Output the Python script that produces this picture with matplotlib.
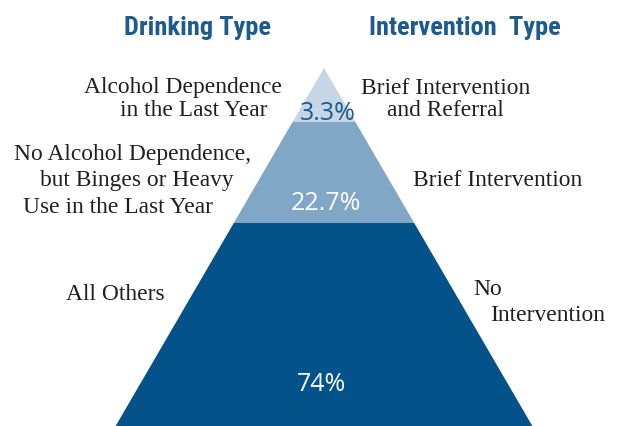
import matplotlib
matplotlib.use("Agg")
import matplotlib.pyplot as plt
from matplotlib.patches import Polygon

# data
drinking_types = [
    ["Alcohol Dependence", "in the Last Year"],
    ["No Alcohol Dependence,", "but Binges or Heavy", "Use in the Last Year"],
    ["All Others"],
]
intervention_types = [
    ["Brief Intervention", "and Referral"],
    ["Brief Intervention"],
    ["No", "Intervention"],
]
percent_labels = ["3.3%", "22.7%", "74%"]

# layout (pixel coordinates, y down)
W, H = 618, 427
apex_x, apex_y = 324, 69
slope = 0.582  # half width per pixel of height
level_edges = [69, 123, 224, 427]
layer_colors = ["#c6d6e5", "#80a7c6", "#03538a"]
pct_colors = ["#1d5a8e", "white", "white"]
pct_pos = [(328, 113), (326, 204), (322, 385)]

# text positions, one entry per line
left_lines = [[(183, 88), (194, 111)],
              [(133, 155), (137, 181), (118, 208)],
              [(115, 295)]]
right_lines = [[(446, 88), (445, 111)],
               [(498, 181)],
               [(488, 290), (548, 316)]]

header_color = "#1d5a8e"
serif = ["Liberation Serif", "DejaVu Serif"]
sans = ["Open Sans", "DejaVu Sans"]

fig = plt.figure(figsize=(W / 100, H / 100), dpi=100)
ax = fig.add_axes([0, 0, 1, 1])
ax.set_xlim(0, W)
ax.set_ylim(H, 0)
ax.axis("off")

for i, color in enumerate(layer_colors):
    y0, y1 = level_edges[i], level_edges[i + 1]
    h0 = (y0 - apex_y) * slope
    h1 = (y1 - apex_y) * slope
    poly = Polygon([(apex_x - h0, y0), (apex_x + h0, y0),
                    (apex_x + h1, y1), (apex_x - h1, y1)],
                   closed=True, facecolor=color, edgecolor="none")
    ax.add_patch(poly)
    ax.text(pct_pos[i][0], pct_pos[i][1], percent_labels[i], color=pct_colors[i],
            fontsize=18, family=sans, ha="center", va="center")

for lines, pos in zip(drinking_types, left_lines):
    for txt, (x, y) in zip(lines, pos):
        ax.text(x, y, txt, fontsize=16.9, family=serif, ha="center",
                va="center", color="#231f20")

for lines, pos in zip(intervention_types, right_lines):
    for txt, (x, y) in zip(lines, pos):
        ax.text(x, y, txt, fontsize=16.9, family=serif, ha="center",
                va="center", color="#231f20")

head = dict(fontsize=19, fontweight="bold", fontstretch="condensed",
            family=["Roboto Condensed", "Noto Sans", "Lato"],
            color=header_color, ha="center", va="center")
ax.text(198, 28, "Drinking Type", **head)
ax.text(465, 28, "Intervention  Type", **head)

fig.savefig("out.png", dpi=100)
